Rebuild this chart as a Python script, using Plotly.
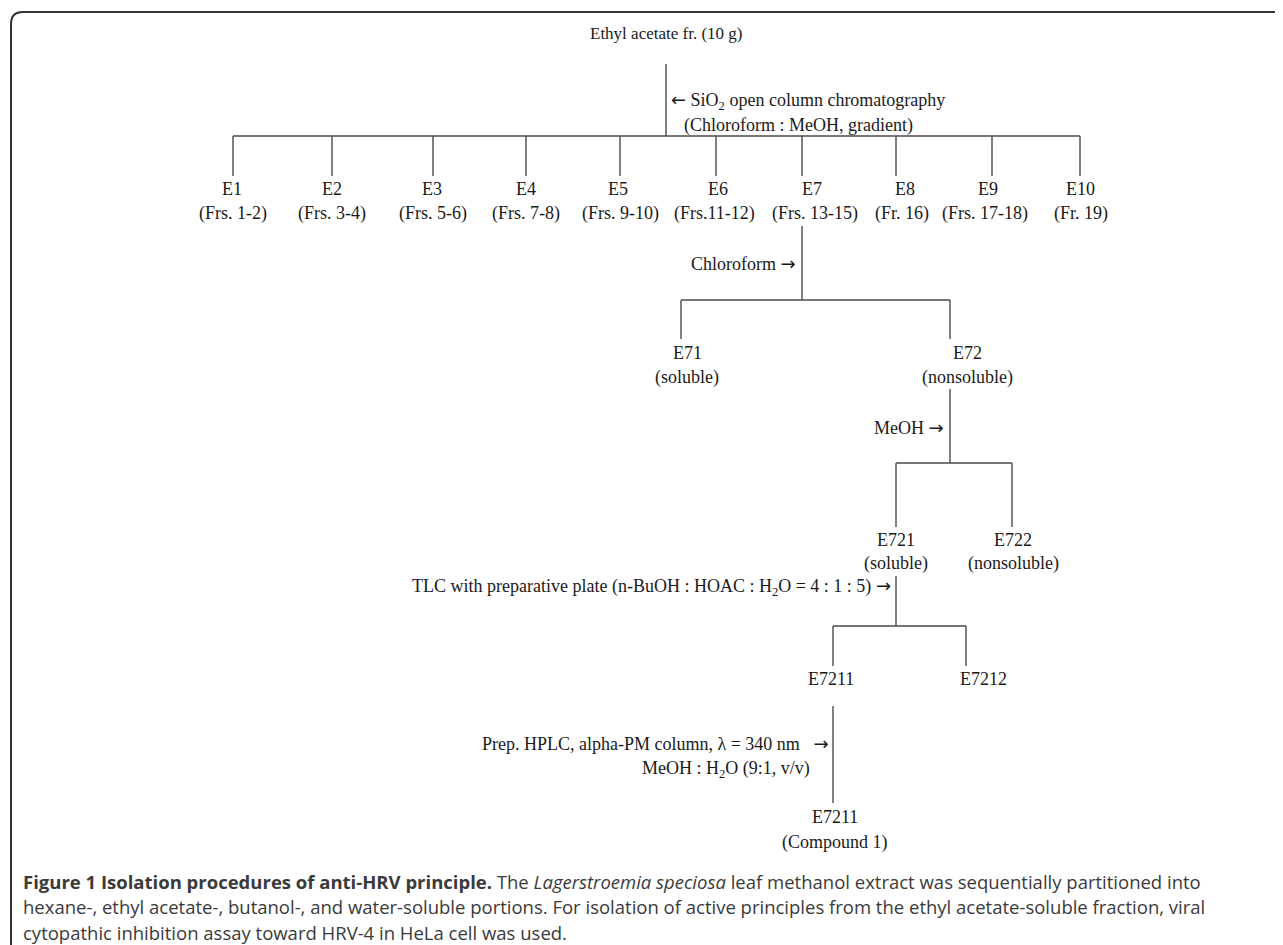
import plotly.graph_objects as go

# ---------------- data ----------------
ARR_R = '<span style="font-family:DejaVu Sans">→</span>'
ARR_L = '<span style="font-family:DejaVu Sans">←</span>'
top_label = "Ethyl acetate fr. (10 g)"
step1_lines = [ARR_L + " SiO<sub>2</sub> open column chromatography", "(Chloroform : MeOH, gradient)"]
level1_names = ["E1", "E2", "E3", "E4", "E5", "E6", "E7", "E8", "E9", "E10"]
level1_frs = ["(Frs. 1-2)", "(Frs. 3-4)", "(Frs. 5-6)", "(Frs. 7-8)", "(Frs. 9-10)",
              "(Frs.11-12)", "(Frs. 13-15)", "(Fr. 16)", "(Frs. 17-18)", "(Fr. 19)"]
step2_label = "Chloroform " + ARR_R
level2_names = ["E71", "E72"]
level2_sub = ["(soluble)", "(nonsoluble)"]
step3_label = "MeOH " + ARR_R
level3_names = ["E721", "E722"]
level3_sub = ["(soluble)", "(nonsoluble)"]
step4_label = "TLC with preparative plate (n-BuOH : HOAC : H<sub>2</sub>O = 4 : 1 : 5) " + ARR_R
level4_names = ["E7211", "E7212"]
step5_lines = ["Prep. HPLC, alpha-PM column, λ = 340 nm   " + ARR_R, "MeOH : H<sub>2</sub>O (9:1, v/v)"]
final_name = "E7211"
final_sub = "(Compound 1)"
caption_lines = [
    "<b>Figure 1 Isolation procedures of anti-HRV principle.</b> The <i>Lagerstroemia speciosa</i> leaf methanol extract was sequentially partitioned into",
    "hexane-, ethyl acetate-, butanol-, and water-soluble portions. For isolation of active principles from the ethyl acetate-soluble fraction, viral",
    "cytopathic inhibition assay toward HRV-4 in HeLa cell was used.",
]

# ---------------- layout positions (page-pixel data coords) ----------------
W, H = 1283, 945
OFF = 8  # default page margin of the html body
top_x, top_y = 666, 33
level1_x = [233, 332, 433, 526, 620, 716, 802, 896, 992, 1080]
level1_lx = [232, 332, 432, 526, 618, 718, 812, 905, 988, 1080]
level1_sx = [233, 332, 433, 526, 620, 714, 815, 902, 985, 1081]
level2_x = [681, 950]
level2_lx = [687, 967]
level3_x = [896, 1012]
level3_lx = [896, 1013]
level4_x = [833, 966]
level4_lx = [831, 983]

SERIF = "Liberation Serif, Times New Roman, serif"
TXT = "#1a1a1a"
LINE = "#4a4a4a"
FS = 18

fig = go.Figure()

def connector(xs, ys):
    fig.add_trace(go.Scatter(x=xs, y=ys, mode="lines", line=dict(color=LINE, width=1.4),
                             hoverinfo="skip", showlegend=False))

def bracket(px, stem_top, bar_y, child_xs, drop_bottom):
    xs, ys = [px, px, None, min(child_xs), max(child_xs), None], [stem_top, bar_y, None, bar_y, bar_y, None]
    for cx in child_xs:
        xs += [cx, cx, None]
        ys += [bar_y, drop_bottom, None]
    connector(xs, ys)

def text(x, y, s, anchor="center", size=FS, font=SERIF, color=TXT):
    fig.add_annotation(x=x, y=y, text=s, showarrow=False, xanchor=anchor, yanchor="middle",
                       font=dict(family=font, size=size, color=color), xref="x", yref="y")

# top
text(top_x, top_y, top_label, size=17)
bracket(top_x, 64, 136, level1_x, 176)
text(669, 101, step1_lines[0], anchor="left")
text(682, 125, step1_lines[1], anchor="left")
for lx, sx, n, f in zip(level1_lx, level1_sx, level1_names, level1_frs):
    text(lx, 189, n)
    text(sx, 213, f)

# E7 split
bracket(level1_x[6], 226, 300, level2_x, 339)
text(798, 263, step2_label, anchor="right")
for x, n, s in zip(level2_lx, level2_names, level2_sub):
    text(x, 353, n)
    text(x, 377, s)

# E72 split
bracket(level2_x[1], 389, 463, level3_x, 527)
text(946, 427, step3_label, anchor="right")
for x, n, s in zip(level3_lx, level3_names, level3_sub):
    text(x, 540, n)
    text(x, 563, s)

# E721 split
bracket(level3_x[0], 576, 626, level4_x, 666)
text(893, 587, step4_label, anchor="right")
for x, n in zip(level4_lx, level4_names):
    text(x, 679, n)

# E7211 -> compound 1
connector([level4_x[0], level4_x[0]], [706, 803])
text(830, 743, step5_lines[0], anchor="right")
text(812, 769, step5_lines[1], anchor="right")
text(835, 817, final_name)
text(835, 842, final_sub)

# caption
for i, line in enumerate(caption_lines):
    text(21, 881 + i * 25.5, line, anchor="left", size=18.5,
         font="Open Sans, Noto Sans, sans-serif", color="#3a3a3a")

# frame (rounded top-left corner)
fig.add_shape(type="path", xref="x", yref="y",
              path=f"M {W + 20},12 L 23,12 Q 11,12 11,24 L 11,{H + 20}",
              line=dict(color="#333333", width=2))

fig.update_layout(
    width=W, height=H, margin=dict(l=0, r=0, t=0, b=0),
    paper_bgcolor="white", plot_bgcolor="white",
    xaxis=dict(range=[OFF, W + OFF], visible=False, fixedrange=True),
    yaxis=dict(range=[H + OFF, OFF], visible=False, fixedrange=True),
    showlegend=False,
)

fig.write_html("out.html")
